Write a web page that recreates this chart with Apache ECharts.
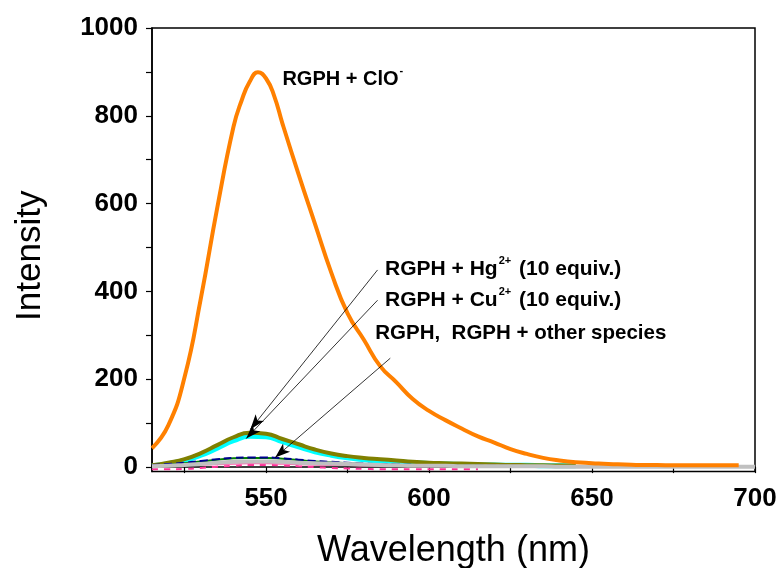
<!DOCTYPE html>
<html>
<head>
<meta charset="utf-8">
<script src="https://cdn.jsdelivr.net/npm/echarts@6/dist/echarts.min.js"></script>
<style>
  html, body { margin: 0; padding: 0; background: #fff; }
  #main { width: 779px; height: 568px; }
</style>
</head>
<body>
<div id="main"></div>
<script>
// wavelength grid (nm)
var wavelength = [515,520,525,530,535,540,545,550,555,560,565,570,575,580,585,590,595,600,605,610,
                  615,620,625,630,635,640,645,650,655,660,665,670,675,680,685,690,695,700];
// the ClO- curve is read a little finer around its peak
var cloWavelength = [515,520,525,530,535,540,542.5,545,547.5,550,552.5,555,560,565,570,575,580,585,590,595,600,605,610,
                     615,620,625,630,635,640,645,650,655,660,665,670,675,680,685,690,695];

// intensities
var clo    = [43,95,205,385,590,775,835,878,899,885,845,783,666,554,443,350,290,230,193,155,128,107,88,
              70,56,41,30,21,15,11,9,7,6,5,5,4,4,4,4,4];
var hg     = [4,10,18,32,50,68,78,76,64,52,40,31,25,21,18,15,12,10,9,8,
              7,6,5,4.5,4,3.5,3,null,null,null,null,null,null,null,null,null,null,null];
var cu     = [3,8,15,27,43,60,70,69,58,46,35,27,21,17,14,12,10,8,7,6,
              5,5,4,4,3,3,3,null,null,null,null,null,null,null,null,null,null,null];
var navy   = [5,7,10,14,18,21,22,22,20,17,14,12,10,8,7,6,5,4,4,3,
              3,3,3,2,2,2,2,2,2,2,2,2,2,2,2,2,2,2];
var green  = [4,6,9,13,17,20,21,21,19,16,13,11,9,7,6,5,4,4,3,3,
              3,2,2,2,2,2,2,2,2,2,null,null,null,null,null,null,null,null];
var pinkD  = [-5,-5,-4,-2,1,3,5,5,4,2,0,-2,-3,-4,-5,-5,-5,-5,-5,-5,
              -5,null,null,null,null,null,null,null,null,null,null,null,null,null,null,null,null,null];
var pinkS  = [2,3,4,5,6,7,8,8,7,6,5,4,4,3,3,2,2,2,2,2,
              2,2,2,2,null,null,null,null,null,null,null,null,null,null,null,null,null,null];
var blank  = [2,3,5,7,10,12,13,13,12,10,9,8,7,6,5,4,3,3,3,2,
              2,2,2,2,2,1,1,1,1,1,1,1,1,1,1,1,1,1];

var xTicks = [525,550,575,600,625,650,675,700];
var xLabels = [550,600,650,700];
var yTicks = [0,100,200,300,400,500,600,700,800,900,1000];
var yLabels = [0,200,400,600,800,1000];

function pairs(xs, arr) {
    var out = [];
    for (var i = 0; i < xs.length; i++) {
        out.push([xs[i], arr[i] == null ? '-' : arr[i]]);
    }
    return out;
}

var FONT = '"Liberation Sans", Arial, sans-serif';

function line(name, xs, data, color, width, type) {
    return {
        name: name, type: 'line', data: pairs(xs, data), smooth: true, showSymbol: false,
        connectNulls: false,
        lineStyle: { color: color, width: width, type: type || 'solid' }
    };
}

var chart = echarts.init(document.getElementById('main'));

var cloSeries = line('RGPH + ClO-', cloWavelength, clo, '#ff8000', 4);
cloSeries.markLine = {
    silent: true,
    symbol: ['none', 'arrow'],
    symbolSize: [8, 15],
    label: { show: false },
    lineStyle: { color: '#000', width: 0.8, type: 'solid' },
    data: [
        [{ coord: [584.2, 449] }, { coord: [545.2, 86] }],
        [{ coord: [584.2, 380] }, { coord: [543.9, 65] }],
        [{ coord: [588.1, 248] }, { coord: [552.8, 22] }]
    ]
};

var option = {
    animation: false,
    backgroundColor: '#fff',
    grid: {
        left: 152, right: 24, top: 28, bottom: 96.5,
        outerBoundsMode: 'none',
        show: true, borderColor: '#000', borderWidth: 1.5, backgroundColor: 'transparent'
    },
    xAxis: {
        type: 'value', min: 515, max: 700,
        name: 'Wavelength (nm)', nameLocation: 'middle', nameGap: 62,
        nameTextStyle: { fontFamily: FONT, fontSize: 36, color: '#000' },
        axisLine: { show: true, lineStyle: { color: '#000', width: 1.5 } },
        axisTick: { show: true, inside: false, length: 6, customValues: xTicks, lineStyle: { color: '#000', width: 1.2 } },
        axisLabel: { customValues: xLabels, margin: 14, fontFamily: FONT, fontSize: 26, fontWeight: 'bold', color: '#000',
                     formatter: function (v) { return String(v); } },
        splitLine: { show: false }
    },
    yAxis: {
        type: 'value', min: -10, max: 1000,
        name: 'Intensity', nameLocation: 'middle', nameGap: 104, nameRotate: 90,
        nameTextStyle: { fontFamily: FONT, fontSize: 35, color: '#000', padding: [0, 12, 0, 0] },
        axisLine: { show: true, lineStyle: { color: '#000', width: 1.5 } },
        axisTick: { show: true, inside: false, length: 6, customValues: yTicks, lineStyle: { color: '#000', width: 1.2 } },
        axisLabel: { customValues: yLabels, margin: 14, fontFamily: FONT, fontSize: 26, fontWeight: 'bold', color: '#000',
                     formatter: function (v) { return String(v); } },
        splitLine: { show: false }
    },
    series: [
        line('pink dashed', wavelength, pinkD, '#ff3399', 2, [6, 6]),
        line('pink', wavelength, pinkS, '#ff66b3', 1.5),
        line('RGPH + Cu2+', wavelength, cu, '#00ffff', 5),
        line('RGPH + Hg2+', wavelength, hg, '#808000', 4),
        line('green', wavelength, green, '#008000', 2),
        line('navy', wavelength, navy, '#000090', 2, [8, 4]),
        line('RGPH', wavelength, blank, '#c0c0c0', 4),
        cloSeries
    ]
};

chart.setOption(option);

// annotation labels, anchored in data coordinates
var notes = [
    { at: [555, 888], size: 20, text: '{n|RGPH + ClO}{s|-}' },
    { at: [586.5, 455], size: 21, text: '{n|RGPH + Hg}{s|2+}{n| (10 equiv.)}' },
    { at: [586.5, 383], size: 21, text: '{n|RGPH + Cu}{s|2+}{n| (10 equiv.)}' },
    { at: [583.5, 307], size: 20.5, text: '{n|RGPH,  RGPH + other species}' }
];

var graphics = notes.map(function (nt) {
    var p = chart.convertToPixel({ gridIndex: 0 }, nt.at);
    return {
        type: 'text', x: p[0], y: p[1], silent: true,
        style: {
            text: nt.text, fill: '#000', verticalAlign: 'middle', align: 'left',
            rich: {
                n: { fontFamily: FONT, fontSize: nt.size, fontWeight: 'bold', lineHeight: 24, verticalAlign: 'bottom' },
                s: { fontFamily: FONT, fontSize: 11, fontWeight: 'bold', lineHeight: 24, verticalAlign: 'top', padding: [0, 2, 0, 1] }
            }
        }
    };
});

chart.setOption({ graphic: graphics });
</script>
</body>
</html>
